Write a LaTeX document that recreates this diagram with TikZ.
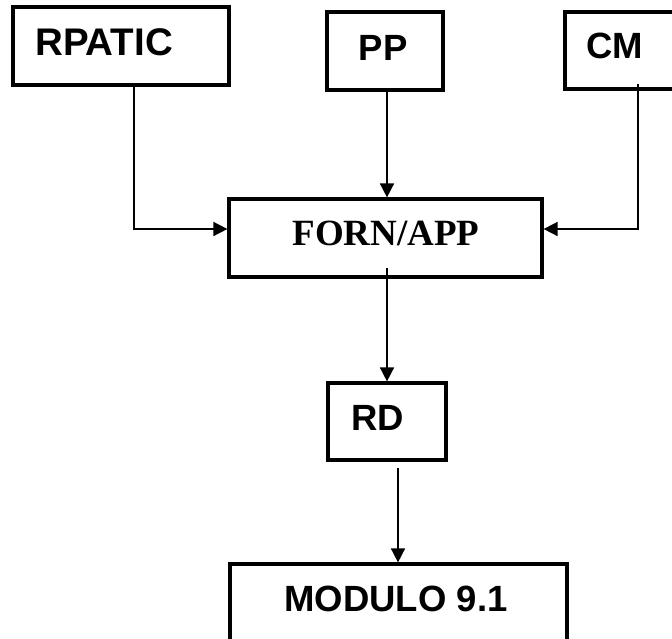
\documentclass[tikz,border=0pt]{standalone}
\usepackage{fontspec}
\setmainfont{Liberation Serif}
\setsansfont{Liberation Sans}
\usetikzlibrary{arrows.meta}

\tikzset{
  blockbox/.style={draw=black, line width=3.2pt, fill=none, inner sep=0pt},
  sanslabel/.style={anchor=base, inner sep=0pt, font=\sffamily\bfseries\fontsize{36.5}{36.5}\selectfont},
  seriflabel/.style={anchor=base, inner sep=0pt, font=\rmfamily\bfseries\fontsize{37}{37}\selectfont},
  conn/.style={draw=black, line width=1.6pt, -{Triangle[length=14pt,width=14pt]}},
}

\newcommand{\blockat}[5]{%
  % name, left, top, right, bottom (pixel-style units, y downward)
  \node[blockbox, minimum width=#4pt-#2pt, minimum height=#5pt-#3pt] (#1) at ({(#2+#4)/2},{(#3+#5)/2}) {};%
}

\begin{document}
\begin{tikzpicture}[x=1pt, y=-1pt]
  \useasboundingbox (0,0) rectangle (672,638);
  \clip (0,0) rectangle (672,638);

  % boxes
  \blockat{rpatic}{13}{7}{229}{85}
  \blockat{pp}{327}{12}{443}{90}
  \blockat{cm}{565}{12}{705}{89}
  \blockat{forn}{229}{199}{542}{277}
  \blockat{rd}{328}{383}{446}{460}
  \blockat{modulo}{230}{564}{567}{705}

  % labels
  \node[sanslabel, font=\sffamily\bfseries\fontsize{38.5}{38.5}\selectfont] (trpatic) at (104,55) {RPATIC};
  \node[sanslabel] (tpp) at (383,60) {PP};
  \node[sanslabel] (tcm) at (615,58) {CM};
  \node[seriflabel] (tforn) at (386,245) {FORN/APP};
  \node[sanslabel] (trd) at (378,430) {RD};
  \node[sanslabel] (tmodulo) at (396,611) {MODULO 9.1};

  % junction points of the elbow connectors
  \coordinate (jl) at (134,229);
  \coordinate (jr) at (638,229);
  \coordinate (fornout) at (387,268);
  \coordinate (rdout) at (398,468);
  \coordinate (cmout) at (638,84);

  % connectors
  \draw[conn] (rpatic.south -| jl) -- (jl) -- (forn.west |- jl);
  \draw[conn] (pp.south -| 387,0) -- (forn.north -| 387,0);
  \draw[conn] (cmout) -- (jr) -- (forn.east |- jr);
  \draw[conn] (fornout) -- (rd.north -| fornout);
  \draw[conn] (rdout) -- (modulo.north -| rdout);
\end{tikzpicture}
\end{document}
